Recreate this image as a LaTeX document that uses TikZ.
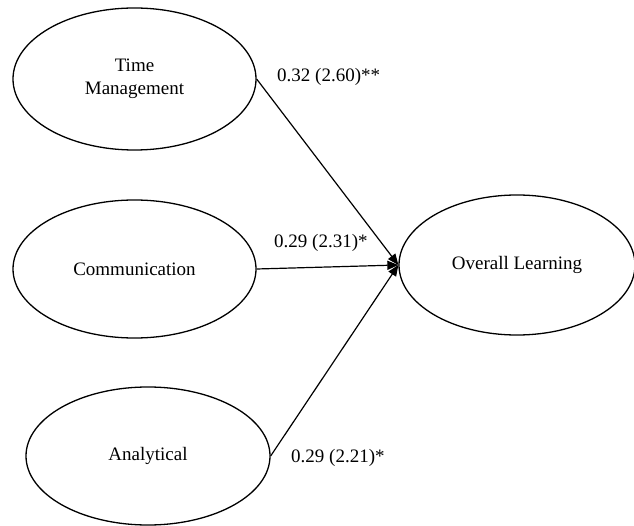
\documentclass[tikz,border=0pt]{standalone}
\usepackage{fontspec}
\setmainfont{Liberation Serif}
\usetikzlibrary{shapes.geometric,arrows.meta}
\begin{document}
\begin{tikzpicture}[x=1pt,y=-1pt,
  construct/.style={draw=black,line width=1.3pt,ellipse,inner sep=0pt,
    align=center,font=\fontsize{19}{23}\selectfont},
  path/.style={draw=black,line width=1.2pt,-{Triangle[length=11pt,width=9pt]}},
  coef/.style={anchor=west,inner sep=0pt,font=\fontsize{19}{23}\selectfont}]
\useasboundingbox (0,0) rectangle (634,526);
\node[construct,minimum width=243pt,minimum height=142pt] (tm) at (134.5,79) {Time\\Management};
\node[construct,minimum width=243pt,minimum height=138pt] (com) at (134.5,269) {Communication};
\node[construct,minimum width=244pt,minimum height=138pt] (ana) at (148,456) {Analytical};
\node[construct,minimum width=236pt,minimum height=140pt] (ol) at (517,265) {Overall Learning};
\draw[path] (tm.east) -- (ol.west);
\draw[path] (com.east) -- (ol.west);
\draw[path] (ana.east) -- (ol.west);
\node[coef] (l1) at (277,77) {0.32 (2.60)**};
\node[coef] (l2) at (274,243) {0.29 (2.31)*};
\node[coef] (l3) at (291,458) {0.29 (2.21)*};
\end{tikzpicture}
\end{document}
